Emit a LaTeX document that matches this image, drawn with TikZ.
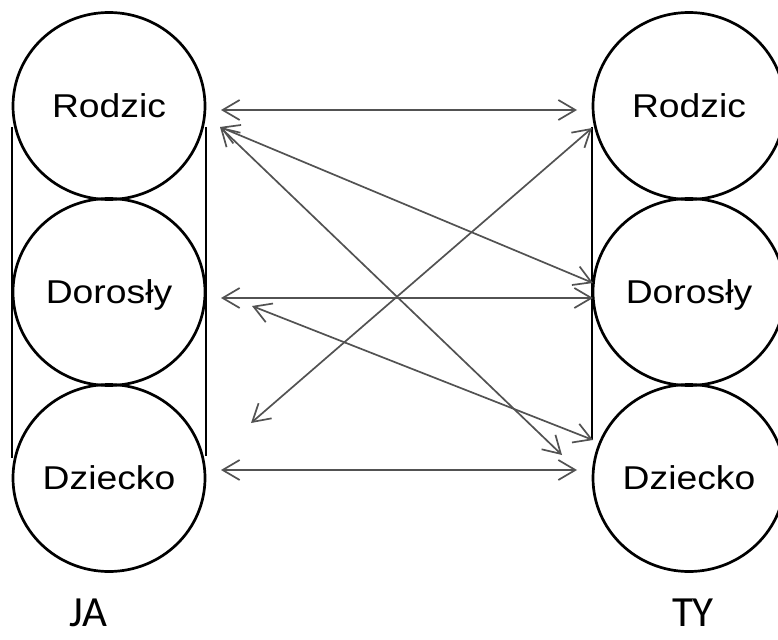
\documentclass[tikz,border=0pt]{standalone}
\usepackage{fontspec}
\setmainfont{Liberation Sans}
\newfontfamily\jafont{Carlito}
\usetikzlibrary{arrows.meta,shapes.geometric}
\begin{document}
\begin{tikzpicture}[x=1pt,y=-1pt,
  roundbox/.style={ellipse, draw=black, line width=2.7pt, minimum width=192pt, minimum height=187pt,
    inner sep=0pt, text height=23.6pt, text depth=0pt, font=\fontsize{33}{36}\selectfont},
  sideline/.style={draw=black, line width=2.2pt},
  link/.style={draw=black!68, line width=1.7pt, {Straight Barb[length=17pt,width=20pt]}-{Straight Barb[length=17pt,width=20pt]}},
  sidetext/.style={inner sep=0pt, anchor=base, font=\jafont\fontsize{43}{48}\selectfont}
]
\useasboundingbox (0,0) rectangle (778,639);
% left column
\node[roundbox] (LR) at (109,106) {\scalebox{1.13}[1]{Rodzic}};
\node[roundbox] (LA) at (109,292) {\scalebox{1.13}[1]{Dorosły}};
\node[roundbox] (LD) at (109,478) {\scalebox{1.13}[1]{Dziecko}};
% right column
\node[roundbox] (RR) at (689,106) {\scalebox{1.13}[1]{Rodzic}};
\node[roundbox] (RA) at (689,292) {\scalebox{1.13}[1]{Dorosły}};
\node[roundbox] (RD) at (689,478) {\scalebox{1.13}[1]{Dziecko}};
% side lines
\draw[sideline] ([yshift=-21pt]LR.west) -- ([yshift=20pt]LD.west);
\draw[sideline] ([yshift=-21pt]LR.east) -- ([yshift=22pt]LD.east);
\draw[sideline] ([yshift=-21pt]RR.west) -- ([yshift=38pt]RD.west);
% labels
\node[sidetext] (ja) at (88,626) {JA};
\node[sidetext] (ty) at (693,626) {TY};
% arrow end points
\coordinate (a1) at (221,110); \coordinate (a2) at (577,110);
\coordinate (b1) at (220,127); \coordinate (b2) at (593,283);
\coordinate (c2) at (562,455);
\coordinate (d1) at (221,298); \coordinate (d2) at (593,298);
\coordinate (e1) at (252,306); \coordinate (e2) at (593,440);
\coordinate (f1) at (592,128); \coordinate (f2) at (251,423);
\coordinate (g1) at (221,470); \coordinate (g2) at (577,470);
% arrows
\draw[link] (a1) -- (a2);
\draw[link] (b1) -- (b2);
\draw[link] (b1) -- (c2);
\draw[link] (d1) -- (d2);
\draw[link] (e1) -- (e2);
\draw[link] (f1) -- (f2);
\draw[link] (g1) -- (g2);
\end{tikzpicture}
\end{document}
